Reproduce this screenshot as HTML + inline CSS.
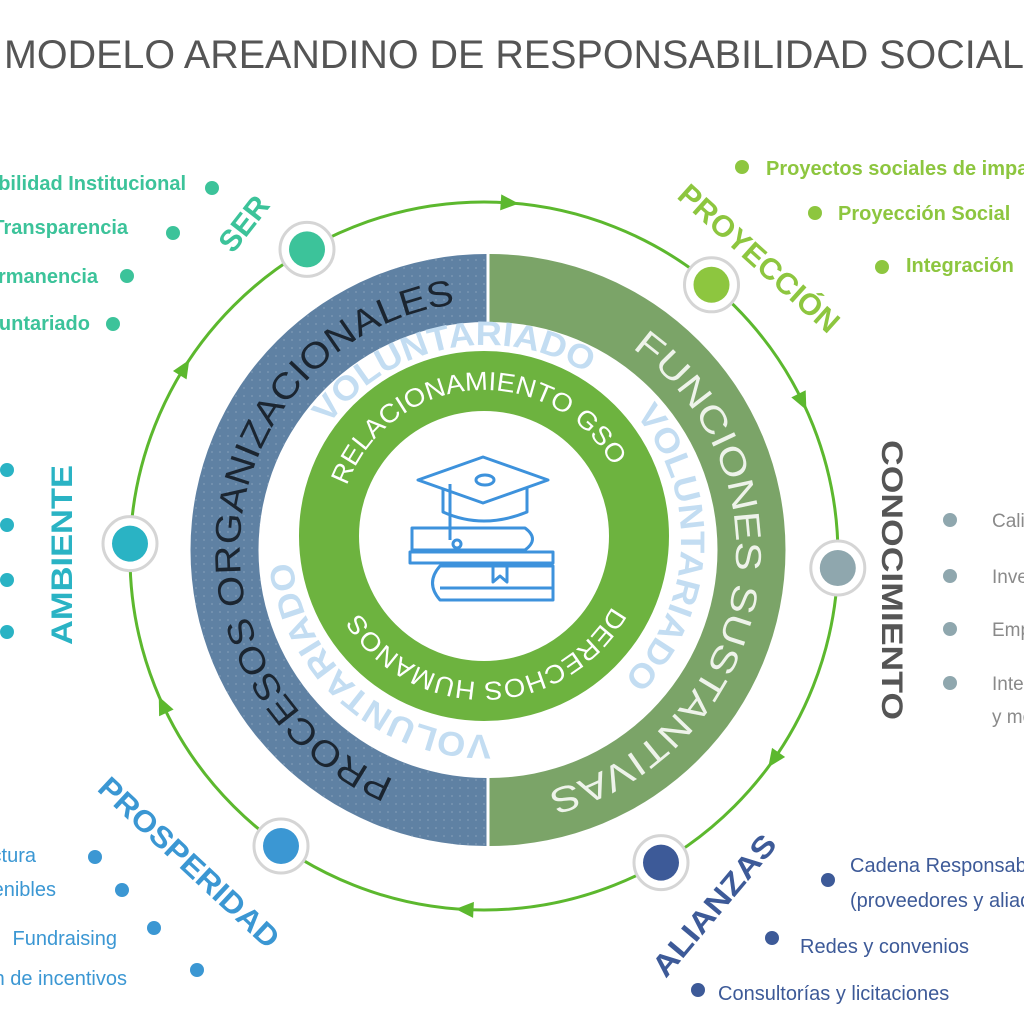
<!DOCTYPE html>
<html><head><meta charset="utf-8"><style>
html,body{margin:0;padding:0;background:#fff;}
svg{display:block;}
text{font-family:"Liberation Sans",sans-serif;}
</style></head><body>
<svg width="1024" height="1024" viewBox="0 0 1024 1024" xmlns="http://www.w3.org/2000/svg">
<defs>
<path id="bandTop" d="M488 302 A248 248 0 1 1 488 798 A248 248 0 1 1 488 302"/>
<pattern id="dots" width="8" height="8" patternUnits="userSpaceOnUse"><circle cx="4" cy="4" r="0.9" fill="#7f9bb6"/></pattern>
<path id="volTop" d="M486 345 A195 195 0 1 1 486 735 A195 195 0 1 1 486 345"/>
<path id="volBot" d="M486 735 A195 195 0 1 1 486 345 A195 195 0 1 1 486 735"/>
<path id="grTop" d="M484 390 A146 146 0 1 1 484 682 A146 146 0 1 1 484 390"/>
<path id="grBot" d="M484 682 A146 146 0 1 1 484 390 A146 146 0 1 1 484 682"/>
</defs>

<text x="4" y="68" font-size="40" fill="#555" textLength="1020" lengthAdjust="spacingAndGlyphs">MODELO AREANDINO DE RESPONSABILIDAD SOCIAL</text>

<!-- outer ring -->
<circle cx="484" cy="556" r="354" fill="none" stroke="#5cb82e" stroke-width="3"/>
<g fill="#5cb82e">
<polygon points="10,0 -8,-8 -8,8" transform="translate(508.7,202.9) rotate(4)"/>
<polygon points="10,0 -8,-8 -8,8" transform="translate(802,401) rotate(64)"/>
<polygon points="10,0 -8,-8 -8,8" transform="translate(774,759) rotate(125)"/>
<polygon points="10,0 -8,-8 -8,8" transform="translate(465.5,909.5) rotate(183)"/>
<polygon points="10,0 -8,-8 -8,8" transform="translate(163,705.6) rotate(245)"/>
<polygon points="10,0 -8,-8 -8,8" transform="translate(184,368.4) rotate(302)"/>
</g>

<!-- band -->
<path d="M486.5 254 A296 296 0 0 0 486.5 846 L486.5 778 A228 228 0 0 1 486.5 322 Z" fill="#5f81a3"/>
<path d="M486.5 254 A296 296 0 0 0 486.5 846 L486.5 778 A228 228 0 0 1 486.5 322 Z" fill="url(#dots)"/>
<path d="M489.5 254 A296 296 0 0 1 489.5 846 L489.5 778 A228 228 0 0 0 489.5 322 Z" fill="#7ba468"/>
<text font-size="36" fill="#1b2530"><textPath href="#bandTop" startOffset="1200" text-anchor="middle" textLength="650" lengthAdjust="spacingAndGlyphs">PROCESOS ORGANIZACIONALES</textPath></text>
<text font-size="36" fill="#eef3ea"><textPath href="#bandTop" startOffset="436" text-anchor="middle" textLength="565" lengthAdjust="spacingAndGlyphs">FUNCIONES SUSTANTIVAS</textPath></text>

<!-- voluntariado -->
<g font-size="34" font-weight="bold" fill="#c3ddf2">
<text><textPath href="#volBot" startOffset="574" text-anchor="middle" textLength="290" lengthAdjust="spacingAndGlyphs">VOLUNTARIADO</textPath></text>
<text><textPath href="#volTop" startOffset="315" text-anchor="middle" textLength="290" lengthAdjust="spacingAndGlyphs">VOLUNTARIADO</textPath></text>
<text><textPath href="#volTop" startOffset="752" text-anchor="middle" textLength="290" lengthAdjust="spacingAndGlyphs">VOLUNTARIADO</textPath></text>
</g>

<!-- green ring -->
<circle cx="484" cy="536" r="155" fill="none" stroke="#6db33f" stroke-width="60"/>
<g font-size="26" fill="#fff">
<text><textPath href="#grBot" startOffset="448" text-anchor="middle" textLength="335" lengthAdjust="spacingAndGlyphs">RELACIONAMIENTO GSO</textPath></text>
<text><textPath href="#grTop" startOffset="455" text-anchor="middle" textLength="305" lengthAdjust="spacingAndGlyphs">DERECHOS HUMANOS</textPath></text>
</g>

<!-- icon -->
<g fill="none" stroke="#3d92dc" stroke-width="3" stroke-linejoin="round">
<polygon points="483,457 418,480 483,503 548,480"/>
<path d="M443 488 V512 Q483 530 527 512 V488"/>
<ellipse cx="485" cy="480" rx="9" ry="5"/>
<path d="M450 484 V540"/><circle cx="457" cy="544" r="4"/>
<path d="M412 528 H525 Q540 539 525 550 H412 Z"/>
<path d="M410 552 H553 V563 H410 Z"/>
<path d="M440 566 H553 V600 H440 Q425 583 440 566 Z"/>
<path d="M440 588 H553"/>
<path d="M493 563 V582 L500 576 L507 582 V563"/>
</g>

<!-- nodes -->
<g stroke="#d5d5d5" stroke-width="3" fill="#fff">
<circle cx="307" cy="249.4" r="27"/><circle cx="711.5" cy="284.8" r="27"/><circle cx="837.8" cy="568" r="27"/>
<circle cx="661" cy="862.6" r="27"/><circle cx="281" cy="846" r="27"/><circle cx="130" cy="543.6" r="27"/>
</g>
<circle cx="307" cy="249.4" r="18" fill="#3cc39a"/>
<circle cx="711.5" cy="284.8" r="18" fill="#8dc63f"/>
<circle cx="837.8" cy="568" r="18" fill="#8fa7ae"/>
<circle cx="661" cy="862.6" r="18" fill="#3d5a98"/>
<circle cx="281" cy="846" r="18" fill="#3b97d3"/>
<circle cx="130" cy="543.6" r="18" fill="#2ab3c4"/>

<!-- labels -->
<g font-size="30" font-weight="bold">
<text fill="#3cc39a" text-anchor="middle" transform="translate(252,230) rotate(-52)" textLength="62" lengthAdjust="spacingAndGlyphs">SER</text>
<text fill="#8dc63f" text-anchor="middle" transform="translate(752,266) rotate(42)" textLength="205" lengthAdjust="spacingAndGlyphs">PROYECCIÓN</text>
<text fill="#555" text-anchor="middle" transform="translate(882,580) rotate(90)" textLength="280" lengthAdjust="spacingAndGlyphs">CONOCIMIENTO</text>
<text fill="#3d5a98" text-anchor="middle" transform="translate(722,912) rotate(-50)" textLength="175" lengthAdjust="spacingAndGlyphs">ALIANZAS</text>
<text fill="#3b97d3" text-anchor="middle" transform="translate(182,870) rotate(43)" textLength="235" lengthAdjust="spacingAndGlyphs">PROSPERIDAD</text>
<text fill="#2ab3c4" text-anchor="middle" transform="translate(72,555) rotate(-90)" textLength="180" lengthAdjust="spacingAndGlyphs">AMBIENTE</text>
</g>

<!-- SER list -->
<g fill="#3cc39a" font-size="20" font-weight="bold" text-anchor="end">
<text x="186" y="190">Responsabilidad Institucional</text>
<text x="128" y="234">Transparencia</text>
<text x="98" y="283">Permanencia</text>
<text x="90" y="330">Voluntariado</text>
<circle cx="212" cy="188" r="7"/><circle cx="173" cy="233" r="7"/><circle cx="127" cy="276" r="7"/><circle cx="113" cy="324" r="7"/>
</g>
<!-- AMBIENTE dots -->
<g fill="#2ab3c4"><circle cx="7" cy="470" r="7"/><circle cx="7" cy="525" r="7"/><circle cx="7" cy="580" r="7"/><circle cx="7" cy="632" r="7"/></g>
<!-- PROYECCION list -->
<g fill="#8dc63f" font-size="20" font-weight="bold">
<text x="766" y="175">Proyectos sociales de impacto</text>
<text x="838" y="220">Proyección Social</text>
<text x="906" y="272">Integración</text>
<circle cx="742" cy="167" r="7"/><circle cx="815" cy="213" r="7"/><circle cx="882" cy="267" r="7"/>
</g>
<!-- CONOCIMIENTO list -->
<g fill="#8a8a8a" font-size="19">
<text x="992" y="527">Calidad</text>
<text x="992" y="583">Investigación</text>
<text x="992" y="636">Emprendimiento</text>
<text x="992" y="690">Internacionalización</text>
<text x="992" y="723">y movilidad</text>
</g>
<g fill="#8fa7ae"><circle cx="950" cy="520" r="7"/><circle cx="950" cy="576" r="7"/><circle cx="950" cy="629" r="7"/><circle cx="950" cy="683" r="7"/></g>
<!-- PROSPERIDAD list -->
<g fill="#3b97d3" font-size="20" text-anchor="end">
<text x="36" y="862">Infraestructura</text>
<text x="56" y="896">Sostenibles</text>
<text x="117" y="945">Fundraising</text>
<text x="127" y="985">Plan de incentivos</text>
<circle cx="95" cy="857" r="7"/><circle cx="122" cy="890" r="7"/><circle cx="154" cy="928" r="7"/><circle cx="197" cy="970" r="7"/>
</g>
<!-- ALIANZAS list -->
<g fill="#3d5a98" font-size="20">
<text x="850" y="872">Cadena Responsable</text>
<text x="850" y="907">(proveedores y aliados)</text>
<text x="800" y="953">Redes y convenios</text>
<text x="718" y="1000">Consultorías y licitaciones</text>
<circle cx="828" cy="880" r="7"/><circle cx="772" cy="938" r="7"/><circle cx="698" cy="990" r="7"/>
</g>
</svg>
</body></html>
